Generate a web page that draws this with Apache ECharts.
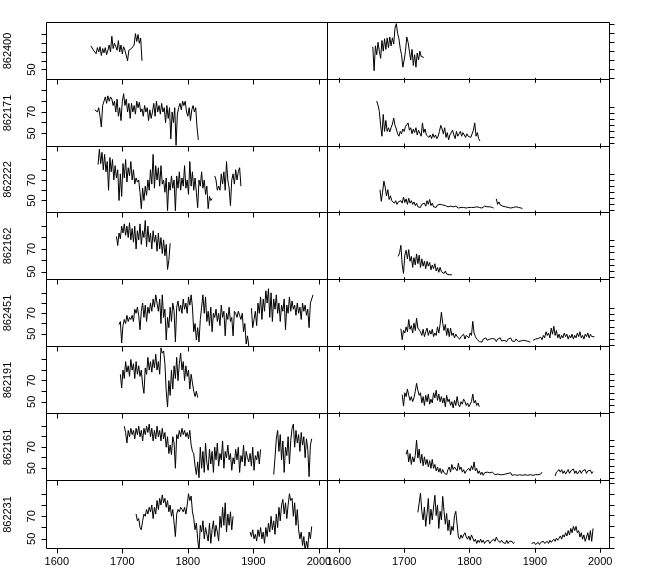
<!DOCTYPE html>
<html>
<head>
<meta charset="utf-8">
<script src="https://cdn.jsdelivr.net/npm/echarts@6/dist/echarts.min.js"></script>
<style>
html,body{margin:0;padding:0;background:#fff;}
#chart{width:657px;height:574px;}
</style>
</head>
<body>
<div id="chart"></div>
<script>
// ---- data ----
const ids = ['862400','862171','862222','862162','862451','862191','862161','862231'];
const startYears = [1652, 1658, 1663, 1691, 1695, 1697, 1703, 1721]; // values every 2 years
const xTicks = [1600, 1700, 1800, 1900, 2000];
const leftYTicks = [50, 60, 70, 80, 90];
const leftYLabels = [50, 70];
const rightYTicks = [0, 1, 2, 3, 4, 5, 6];

const L_862400 = [77,76,72,74,68,75,70,76,66,74,69,75,67,72,78,70,88,74,80,76,72,83,70,78,68,76,72,74,60,72,70,74,72,78,91,82,90,80,86,60];
const R_862400 = [3.5,0.8,3.6,2.6,4.0,3.0,2.2,4.2,3.0,4.4,3.2,4.5,3.4,4.6,3.6,4.5,3.8,5.6,6.1,5.0,4.4,3.3,2.6,1.2,2.0,3.0,4.6,4.0,3.0,2.0,3.2,1.4,2.6,1.2,2.8,2.0,3.0,2.4,2.2,2.3];

const L_862171 = [72,72,70,74,66,56,76,80,84,78,85,80,84,82,76,80,70,82,66,74,62,80,87,76,82,70,78,64,78,70,76,68,80,74,79,70,73,66,76,70,74,62,72,64,70,78,66,80,70,76,68,78,70,74,60,76,64,74,45,70,60,74,39,68,74,78,72,80,76,80,70,66,74,62,72,76,70,74,56,44];
const R_862171 = [7.0,6.3,5.3,3.0,1.2,4.8,2.0,3.8,2.0,2.6,1.9,2.6,3.2,4.2,3.0,2.4,1.6,1.2,2.0,1.6,2.4,2.0,2.8,3.0,3.4,2.2,2.6,1.6,2.4,1.8,2.6,1.4,2.2,2.0,1.2,3.4,1.8,2.4,1.4,1.6,1.0,1.4,0.8,1.6,1.0,1.4,0.8,1.2,2.0,3.0,2.4,1.6,2.6,1.0,1.8,0.6,1.4,1.2,2.2,1.4,0.8,2.0,1.2,1.6,2.0,1.2,1.8,2.0,1.0,1.6,1.2,1.4,1.0,1.6,2.2,3.4,1.2,1.8,0.8,0.4];

const L_862222 = [85,100,86,97,80,95,78,88,60,92,78,90,70,84,72,80,50,76,54,86,72,90,68,82,74,88,70,80,66,72,68,70,58,42,62,50,64,55,70,60,80,66,95,62,84,70,82,64,84,66,70,58,72,40,68,60,74,62,70,40,74,62,78,60,72,64,84,62,70,56,88,64,78,60,72,58,43,70,64,78,62,70,56,64,42,54,50,52,
  null,74,70,60,64,60,76,66,78,60,88,70,62,45,70,76,66,80,70,78,82,64];
const R_862222 = [3.4,1.5,3.0,4.8,3.8,2.4,3.4,1.8,2.4,1.6,1.7,1.2,1.6,1.0,1.4,1.1,1.6,1.2,2.2,1.3,1.9,1.0,2.0,1.2,1.6,1.0,1.4,0.8,1.2,0.6,0.9,0.5,1.0,0.8,1.2,0.7,1.6,1.0,1.8,0.8,1.2,0.6,0.8,0.5,0.9,0.6,1.0,0.7,0.9,0.6,0.8,0.5,0.6,0.4,0.7,0.5,0.6,0.4,0.7,0.5,0.4,0.6,0.5,0.7,0.5,0.6,0.4,0.6,0.5,0.6,0.5,0.3,0.5,0.4,0.6,0.4,0.5,0.6,0.4,0.5,0.7,0.5,0.6,0.4,0.6,0.3,0.5,0.4,
  null,1.9,1.0,1.4,0.9,1.2,0.7,1.0,0.6,0.8,0.5,0.7,0.4,0.6,0.5,0.3,0.6,0.4,0.5,0.3,0.4,0.3];

const L_862162 = [81,73,84,79,90,84,92,82,90,80,93,78,88,76,90,70,86,78,92,74,86,80,95,72,90,76,84,70,86,76,82,68,84,70,80,66,78,64,74,52,60,75];
const R_862162 = [3.4,4.0,5.2,2.0,0.6,3.6,4.4,3.0,4.5,2.6,3.4,1.6,3.2,2.0,3.8,2.2,3.6,1.6,3.0,1.8,2.6,1.4,2.6,1.8,2.4,1.2,2.0,1.4,2.2,1.0,1.6,0.8,1.6,0.9,1.2,0.6,1.0,0.5,0.8,0.4,0.5,0.4];

const L_862451 = [59,62,41,58,64,60,68,62,66,64,68,62,74,70,76,68,54,72,80,66,78,62,76,70,80,72,84,76,88,80,72,84,60,88,66,74,44,66,56,76,62,80,72,42,76,82,72,78,70,84,74,80,70,86,78,88,76,52,60,44,56,42,64,76,88,70,86,62,72,58,76,52,70,66,74,62,70,58,78,66,72,48,70,64,76,62,66,48,72,70,66,72,68,64,70,52,60,40,48,38,
  null,75,56,64,72,58,80,70,86,64,84,72,92,80,94,66,90,62,84,74,88,70,80,62,78,72,84,54,78,70,86,72,82,74,78,68,80,70,76,64,80,72,78,68,74,56,80,84,88];
const R_862451 = [2.7,0.9,2.4,2.0,3.0,2.2,4.2,2.6,3.2,2.0,3.6,2.4,4.4,2.8,3.0,2.2,1.6,2.6,1.4,2.2,2.8,1.6,2.4,1.8,2.6,1.4,2.0,1.6,3.0,2.0,3.4,5.4,3.6,2.4,3.4,1.6,2.8,1.4,2.8,1.6,2.0,1.2,1.8,1.4,1.6,1.0,1.4,1.2,1.8,1.0,1.6,1.4,1.2,2.0,1.6,3.9,2.0,1.4,1.0,1.2,0.6,0.9,0.5,1.0,0.7,1.2,0.8,0.6,1.0,0.7,1.1,0.8,1.0,0.6,1.0,0.8,1.2,0.7,1.0,0.8,1.1,0.6,1.0,0.8,1.2,0.7,0.9,0.6,1.0,0.8,0.6,0.9,0.7,0.5,0.8,0.6,0.7,0.5,0.6,0.5,
  null,0.8,0.6,1.0,0.8,1.1,0.8,1.3,0.9,1.6,1.2,2.2,1.6,2.0,1.2,2.8,1.8,3.1,1.6,2.4,1.2,1.8,1.0,1.6,1.2,2.0,1.4,1.8,1.0,1.6,1.2,1.8,1.0,1.6,1.2,2.0,1.4,2.2,1.2,1.6,1.0,1.8,1.4,2.0,1.2,1.8,1.4,1.6,1.4];

const L_862191 = [76,63,80,72,88,78,84,74,90,80,86,72,88,76,84,74,80,66,58,82,76,92,80,88,78,90,82,95,80,88,76,101,96,98,86,60,45,70,56,80,62,84,72,92,70,86,96,80,88,70,84,74,80,62,76,68,60,55,60,54];
const R_862191 = [2.7,0.9,3.0,2.4,3.6,2.6,1.8,2.4,1.6,2.2,3.2,4.5,3.4,2.6,3.0,1.4,2.4,1.0,2.6,1.6,2.8,1.2,2.0,1.4,3.0,2.2,3.4,1.8,2.8,1.6,2.4,1.4,2.2,0.8,2.6,1.6,2.0,1.0,1.6,0.6,1.8,1.0,2.4,1.2,0.8,1.6,1.2,2.0,1.6,1.0,1.4,0.8,1.2,1.6,2.8,1.4,1.8,1.0,1.4,0.8];

const L_862161 = [90,84,74,86,80,88,82,86,78,88,82,90,80,86,76,88,82,90,84,92,80,88,76,86,78,90,80,86,76,88,78,84,70,80,64,72,63,80,74,50,82,78,86,80,88,82,86,80,84,78,86,72,66,64,52,44,56,41,70,50,66,46,74,55,48,68,54,66,46,70,58,74,52,64,58,76,50,66,60,72,58,64,48,60,54,68,58,70,46,62,56,72,52,66,60,56,64,52,70,48,62,58,66,54,68,
  null,null,null,null,null,null,null,null,null,
  44,60,78,86,66,82,58,76,46,70,62,80,54,76,88,92,70,86,74,82,66,84,72,80,60,78,68,42,72,78];
const R_862161 = [3.8,4.5,2.6,3.9,2.2,3.4,2.6,3.6,6.0,3.2,4.6,2.4,3.8,2.0,3.4,2.2,3.0,1.8,2.8,1.6,3.0,1.6,2.2,1.2,1.8,1.0,1.6,0.8,1.4,0.9,1.2,0.6,1.4,1.8,1.0,2.2,1.4,1.8,2.0,1.2,2.4,1.4,1.8,1.0,1.4,0.8,1.2,0.9,1.6,1.2,2.0,1.4,2.6,1.2,1.6,0.8,1.2,0.6,1.0,0.5,0.9,0.6,1.0,0.7,0.9,0.6,1.0,0.8,0.6,0.9,0.7,1.0,0.6,0.8,0.6,0.9,0.7,0.5,0.8,0.6,0.9,0.5,0.8,0.6,0.7,0.5,0.8,0.6,0.9,0.5,0.7,0.6,0.8,0.5,0.7,0.6,0.8,0.5,0.7,0.6,0.8,0.6,0.9,0.7,1.0,
  null,null,null,null,null,null,null,null,null,
  0.4,1.0,0.7,1.4,1.0,1.4,0.8,1.2,0.7,1.0,1.4,0.8,1.2,0.9,1.5,0.8,1.2,0.7,1.0,1.3,0.8,1.2,0.9,1.4,0.8,1.2,1.0,1.3,0.8,1.1];

const L_862231 = [72,66,68,60,58,66,72,70,76,72,78,74,80,68,78,72,84,76,86,80,89,82,86,78,84,74,80,70,76,64,52,72,76,74,78,76,74,78,72,80,90,84,88,74,68,58,64,50,39,62,56,66,50,60,54,48,64,46,58,66,52,62,56,48,70,60,78,62,82,56,72,62,74,58,70,
  null,null,null,null,null,null,null,null,null,null,null,null,
  56,52,58,50,54,48,58,52,60,50,56,46,60,52,64,56,70,58,66,54,72,60,78,66,80,85,72,82,68,80,90,84,86,70,82,62,76,58,50,56,44,52,39,48,42,56,50,61];
const R_862231 = [3.3,4.2,5.1,3.4,2.6,3.8,2.0,3.2,4.6,2.2,3.6,2.6,3.8,4.9,3.0,4.0,1.8,3.4,2.6,4.8,3.4,2.2,3.2,1.6,2.6,1.2,2.0,1.6,3.0,3.4,2.2,1.0,0.8,1.2,0.9,1.2,1.4,1.0,0.8,1.1,0.7,1.2,0.9,0.6,0.8,0.4,0.7,0.5,0.8,0.5,0.7,0.4,0.6,0.5,0.7,0.4,0.6,0.5,0.8,0.6,1.0,0.7,0.6,0.5,0.7,0.5,0.6,0.4,0.7,0.4,0.6,0.5,0.6,0.4,0.5,
  null,null,null,null,null,null,null,null,null,null,null,null,
  0.4,0.3,0.5,0.3,0.4,0.5,0.3,0.5,0.4,0.6,0.4,0.5,0.6,0.4,0.7,0.5,0.6,0.8,0.6,0.9,0.7,0.9,1.1,0.8,1.2,1.0,1.4,1.1,1.6,1.2,1.8,1.4,2.0,1.6,2.0,1.4,1.6,1.0,1.4,0.8,1.2,0.6,1.0,1.4,0.7,1.6,0.6,1.8];

const leftSeries = [L_862400, L_862171, L_862222, L_862162, L_862451, L_862191, L_862161, L_862231];
const rightSeries = [R_862400, R_862171, R_862222, R_862162, R_862451, R_862191, R_862161, R_862231];

// ---- layout ----
const FONT = '"Liberation Sans", Arial, sans-serif';
const panelEdges = [22.5, 79.5, 146.5, 212.5, 279.5, 346.5, 413.5, 480.5, 548.5];
const leftYRange = [[38.6,103.7],[37.9,100.2],[38.3,102.7],[43.2,102.0],[37.6,103.0],[38.9,102.3],[38.3,102.1],[41.4,101.8]];
const rightYRange = [[-0.19,6.23],[-0.5,10.58],[-0.33,10.46],[-0.38,10.57],[-0.21,10.74],[-0.27,10.32],[-0.31,10.19],[-0.07,6.28]];
const cols = [
  {left: 46.5, width: 281, xmin: 1584.3, xmax: 2013.1},
  {left: 327.5, width: 282, xmin: 1582.7, xmax: 2014.2}
];

const grid = [], xAxis = [], yAxis = [], series = [];
for (let c = 0; c < 2; c++) {
  for (let i = 0; i < 8; i++) {
    const idx = grid.length;
    const top = panelEdges[i], h = panelEdges[i + 1] - panelEdges[i];
    grid.push({left: cols[c].left, top: top, width: cols[c].width, height: h,
      show: true, borderColor: '#000', borderWidth: 1, backgroundColor: 'transparent', containLabel: false});
    xAxis.push({
      gridIndex: idx, type: 'value', min: cols[c].xmin, max: cols[c].xmax,
      axisLine: {show: false}, splitLine: {show: false},
      axisTick: {show: true, customValues: xTicks, length: 5, inside: false, lineStyle: {color: '#000', width: 1}},
      axisLabel: {show: i === 7, customValues: xTicks, color: '#000', fontSize: 11, fontFamily: FONT, margin: 8,
        formatter: v => String(v)}
    });
    if (c === 0) {
      yAxis.push({
        gridIndex: idx, type: 'value', position: 'left',
        min: leftYRange[i][0], max: leftYRange[i][1],
        axisLine: {show: false}, splitLine: {show: false},
        axisTick: {show: true, customValues: leftYTicks, length: 5, lineStyle: {color: '#000', width: 1}},
        axisLabel: {show: true, customValues: i === 0 ? [50] : leftYLabels, rotate: 90, color: '#000', fontSize: 11, fontFamily: FONT, margin: 9,
          formatter: v => String(v)},
        name: ids[i], nameLocation: 'middle', nameRotate: 90, nameGap: 33,
        nameTextStyle: {color: '#000', fontSize: 11, fontFamily: FONT}
      });
    } else {
      yAxis.push({
        gridIndex: idx, type: 'value', position: 'right',
        min: rightYRange[i][0], max: rightYRange[i][1],
        axisLine: {show: false}, splitLine: {show: false},
        axisTick: {show: true, customValues: rightYTicks, length: 5, lineStyle: {color: '#000', width: 1}},
        axisLabel: {show: false}
      });
    }
    const arr = c === 0 ? leftSeries[i] : rightSeries[i];
    const start = startYears[i];
    series.push({
      type: 'line', xAxisIndex: idx, yAxisIndex: idx,
      data: arr.map((v, k) => [start + 2 * k, v]),
      showSymbol: false, symbol: 'none', connectNulls: false, silent: true,
      lineStyle: {color: '#000', width: 1}
    });
  }
}

const chart = echarts.init(document.getElementById('chart'), null, {renderer: 'canvas'});
chart.setOption({
  animation: false,
  backgroundColor: '#fff',
  textStyle: {fontFamily: FONT},
  grid: grid, xAxis: xAxis, yAxis: yAxis, series: series
});
</script>
</body>
</html>
